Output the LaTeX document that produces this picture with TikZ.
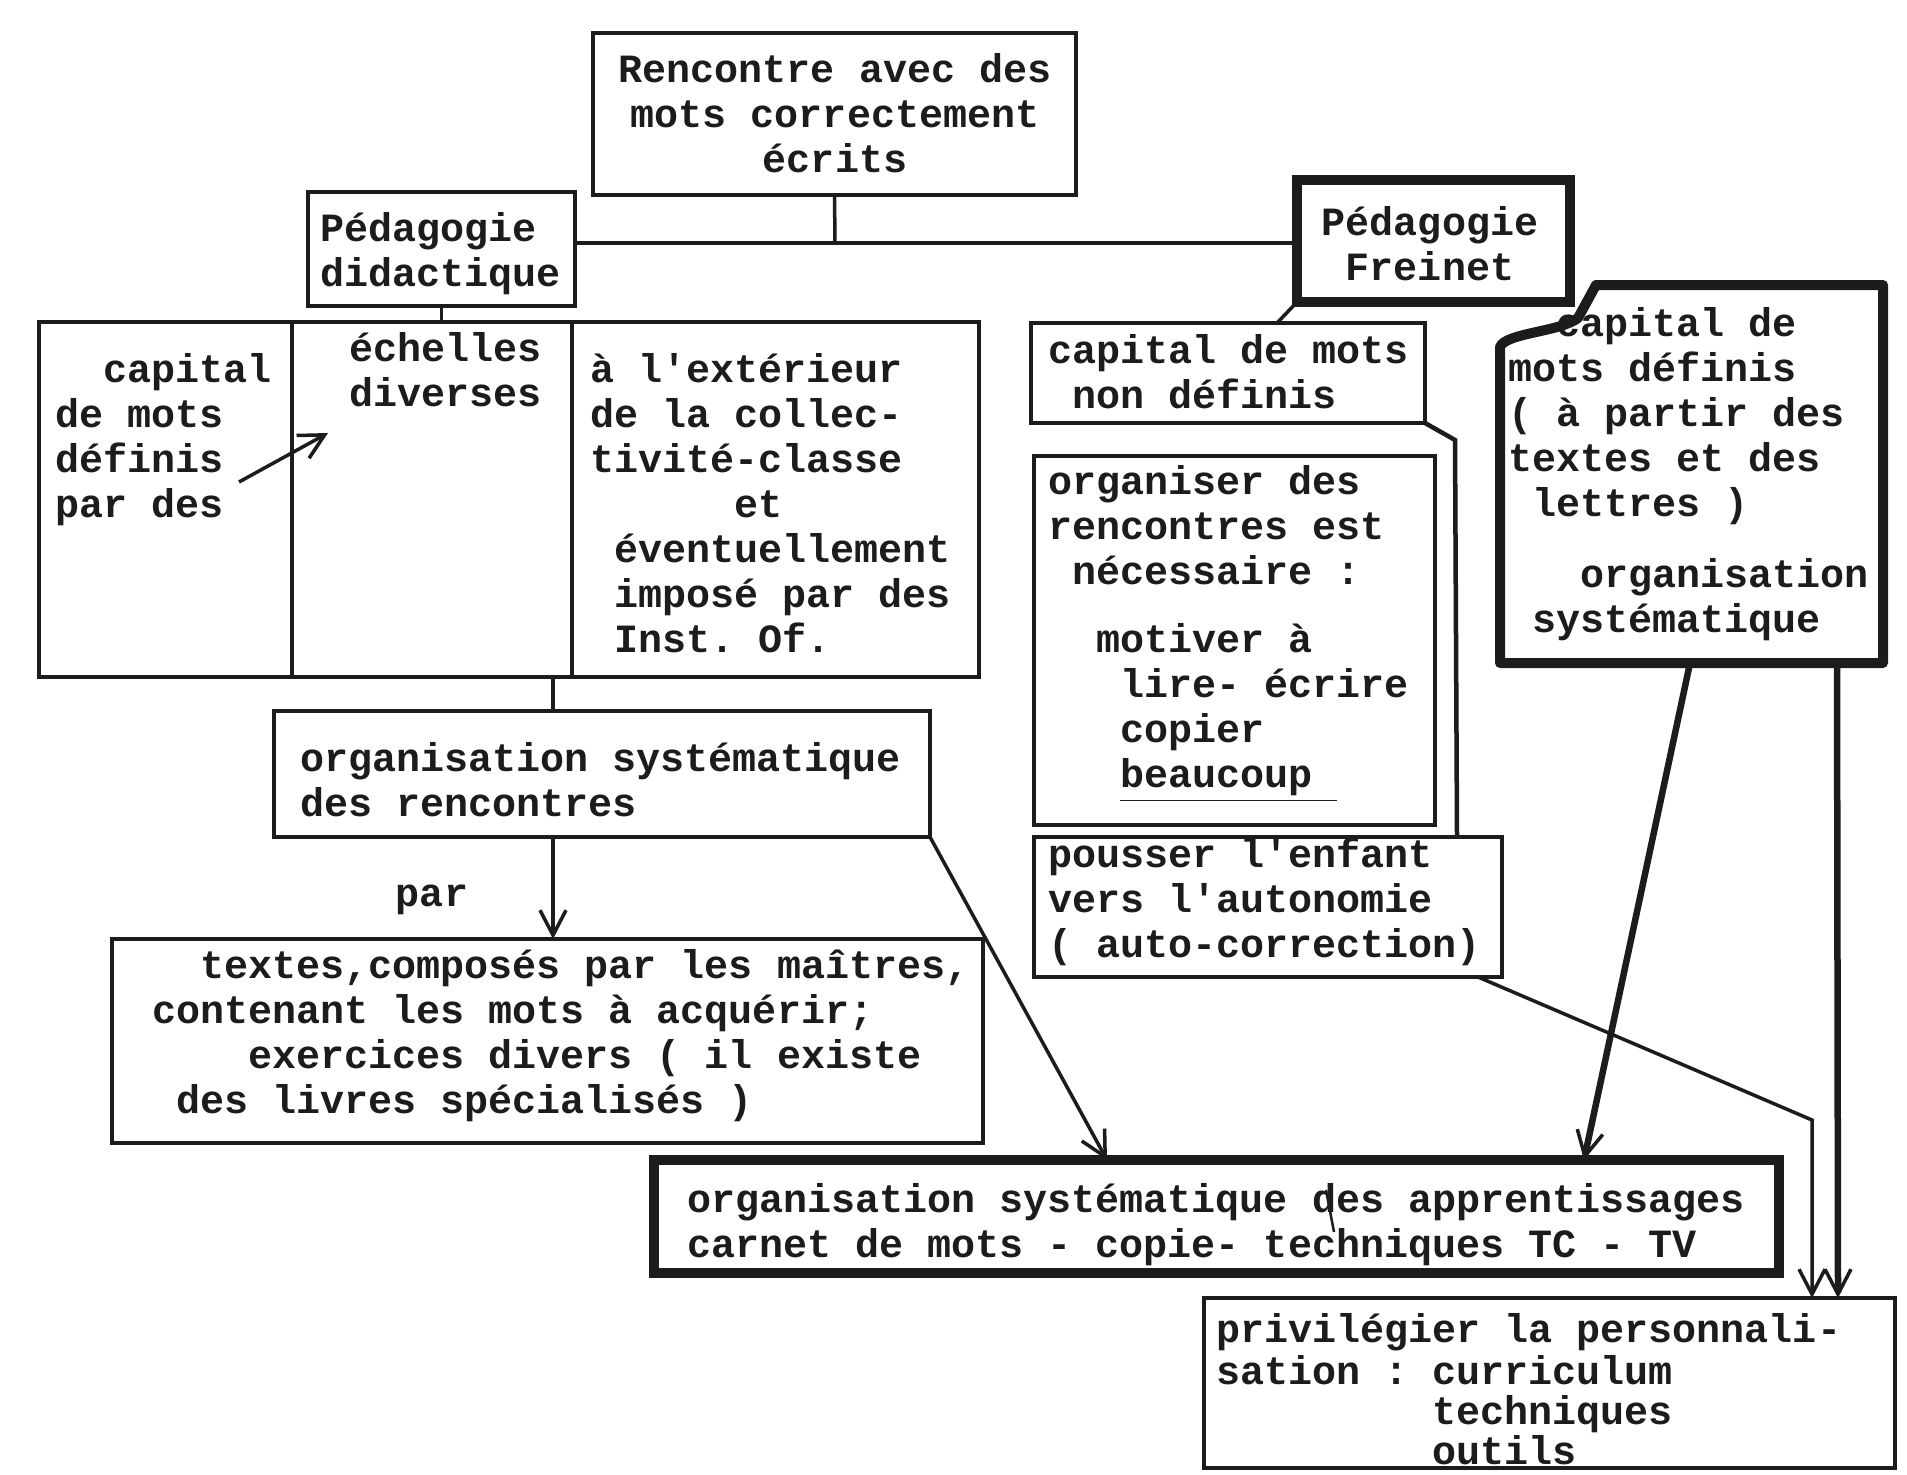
\documentclass[tikz,border=0pt]{standalone}
\usepackage{fontspec}
\setmonofont{Liberation Mono}
\usetikzlibrary{fit,calc,arrows.meta}
\definecolor{ink}{RGB}{28,28,28}
\begin{document}
\begin{tikzpicture}[x=0.1mm,y=-0.1mm,
  every node/.style={inner sep=0pt,outer sep=0pt},
  box/.style={draw=ink,line width=0.45mm},
  heavybox/.style={draw=ink,line width=1mm},
  area/.style={inner sep=0pt},
  txt/.style={font=\fontsize{11.4}{12.8}\selectfont\ttfamily\bfseries,text=ink,align=left,anchor=west},
  ctxt/.style={txt,align=center,anchor=center},
  link/.style={draw=ink,line width=0.35mm},
  heavylink/.style={draw=ink,line width=0.65mm},
  tip/.style={-{Straight Barb[length=2.5mm,width=2.6mm,line width=0.35mm]}},
]
\fill[white] (0,0) rectangle (1907,1474);
\useasboundingbox (0,0) rectangle (1907,1474);

% ---------- boxes ----------
\node[box,fit={(593,33) (1076,195)}] (top) {};
\node[box,fit={(308,192) (575,306)}] (didac) {};
\node[heavybox,fit={(1297,180) (1570,302)}] (freinet) {};
\node[box,fit={(39,322) (292,677)}] (col1) {};
\node[box,fit={(292,322) (572,677)}] (col2) {};
\node[box,fit={(572,322) (979,677)}] (col3) {};
\node[box,fit={(274,711) (930,837)}] (orgA) {};
\node[box,fit={(112,939) (983,1143)}] (textes) {};
\node[heavybox,fit={(654,1160) (1779,1273)}] (appr) {};
\node[box,fit={(1031,323) (1425,423)}] (nondef) {};
\node[box,fit={(1034,456) (1435,825)}] (organiser) {};
\node[box,fit={(1034,837) (1502,977)}] (pousser) {};
\node[area,fit={(1500,285) (1883,663)}] (defin) {};
\node[box,fit={(1204,1298) (1895,1468)}] (privil) {};

% outline of the box with the folded corner
\draw[heavybox,line join=round]
  ($(defin.north west)+(0,62)$)
  .. controls ($(defin.north west)+(5,48)$) and ($(defin.north west)+(60,47)$) ..
  ($(defin.north west)+(78,33)$) -- ($(defin.north west)+(96,0)$)
  -- (defin.north east) -- (defin.south east) -- (defin.south west) -- cycle;

% ---------- texts ----------
\node[ctxt] (toptxt) at (835,113) {Rencontre avec des\\mots correctement\\écrits};
\node[txt] (didactxt) at (320,254) {Pédagogie\\didactique};
\node[ctxt] (freinettxt) at (1430,244) {Pédagogie\\Freinet};
\node[txt] (col1txt) at (55,440) {~~capital\\de mots\\définis\\par des};
\node[txt] (col2txt) at (349,370) {échelles\\diverses};
\node[txt] (col3txt) at (590,503) {à l'extérieur\\de la collec-\\tivité-classe\\~~~~~~et\\~éventuellement\\~imposé par des\\~Inst. Of.};
\node[txt] (orgAtxt) at (300,780) {organisation systématique\\des rencontres};
\node[ctxt] (par) at (432,900) {par};
\node[txt] (textestxt) at (152,1036) {~~textes,composés par les maîtres,\\contenant les mots à acquérir;\\~~~~exercices divers ( il existe\\~des livres spécialisés )};
\node[txt] (apprtxt) at (687,1225) {organisation systématique des apprentissages\\carnet de mots - copie- techniques TC - TV};
\node[txt] (nondeftxt) at (1048,372) {capital de mots\\~non définis};
\node[txt] (organisertxt) at (1048,634) {organiser des\\rencontres est\\~nécessaire :\\[2.3mm]~~motiver à\\~~~lire- écrire\\~~~copier\\~~~\underline{beaucoup~}};
\node[txt] (poussertxt) at (1048,902) {pousser l'enfant\\vers l'autonomie\\( auto-correction)};
\node[txt] (defintxt) at (1508,474) {~~capital de\\mots définis\\( à partir des\\textes et des\\~lettres )\\[2.6mm]~~~organisation\\~systématique};
\node[txt] (priviltxt) at (1216,1389) {privilégier la personnali-\\[-0.3mm]sation : curriculum\\[-0.5mm]~~~~~~~~~techniques\\[-0.5mm]~~~~~~~~~outils};

% ---------- connectors ----------
\coordinate (hub) at (835,243);
\draw[link] (top.south) -- (hub);
\draw[link] (didac.east |- hub) -- (freinet.west |- hub);
\draw[link] (didac.south) -- (didac.south |- col2.north);

\coordinate (spine) at (553,0);
\draw[link] (spine |- col2.south) -- (spine |- orgA.north);
\draw[link,tip] (spine |- orgA.south) -- (spine |- textes.north);

\draw[link,tip] ($(col1.north west)+(200,160)$) -- ($(col2.north west)+(36,111)$);

\draw[link,tip] (orgA.south east) -- ($(appr.north west)+(453,0)$);

\draw[link] (freinet.south west) -- ($(nondef.north west)+(246,0)$);
\draw[link] ($(nondef.south west)+(207,0)$) -- ($(nondef.south west)+(207,0)$ |- organiser.north);
\coordinate (wrap) at (1455,440);
\draw[box] (nondef.south east) -- (wrap) -- ($(pousser.north west)+(423,0)$);

\draw[heavylink,tip] ($(defin.south west)+(190,0)$) -- ($(appr.north west)+(930,0)$);
\draw[heavylink,tip] ($(defin.south west)+(337,0)$) -- ($(privil.north west)+(634,0)$);

\coordinate (bend) at (1812,1120);
\draw[link,tip] ($(pousser.south east)+(-24,0)$) -- (bend) -- (bend |- privil.north);

% typed correction stroke over the word "des"
\draw[ink,line width=0.25mm] ($(appr.north west)+(672,30)$) -- ++(8,42);
\end{tikzpicture}
\end{document}
